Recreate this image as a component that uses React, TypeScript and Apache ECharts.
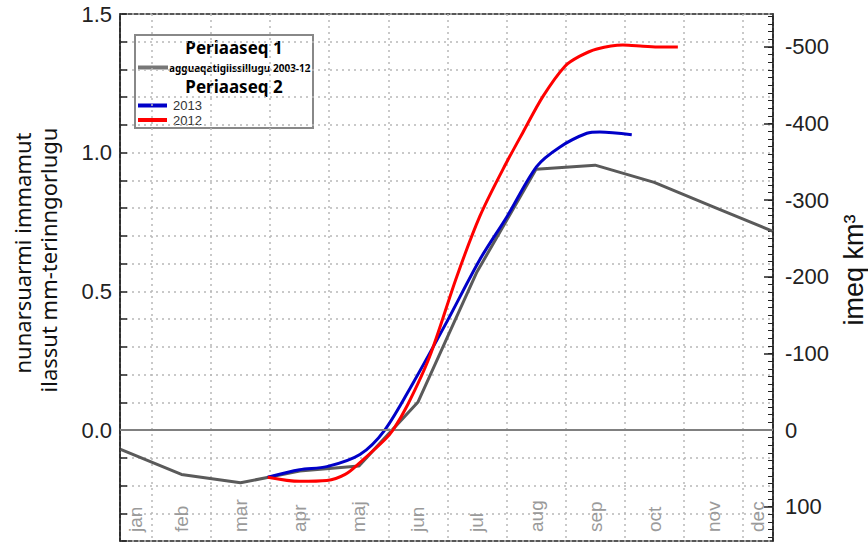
import React, { useEffect, useRef } from "react";
import * as echarts from "echarts";

// ---- data ----
const MONTHS = ["jan", "feb", "mar", "apr", "maj", "jun", "jul", "aug", "sep", "oct", "nov", "dec"];
const MONTH_LABEL_POS = [0.73, 1.5, 2.5, 3.5, 4.5, 5.5, 6.5, 7.5, 8.5, 9.5, 10.5, 11.25];

// average 2003-12 (month units, 0 = 1 Jan)
const AVG_X = [0.47, 1.5, 2.5, 3.5, 4.5, 5.5, 6.5, 7.5, 8.5, 9.5, 10.5, 11.5];
const AVG_Y = [-0.07, -0.16, -0.19, -0.148, -0.13, 0.1, 0.57, 0.94, 0.955, 0.893, 0.805, 0.717];

const Y2013_X = [2.96, 3.5, 3.96, 4.52, 4.94, 5.42, 5.99, 6.55, 7.01, 7.51, 7.9, 8.36, 8.58, 9.12];
const Y2013_Y = [-0.17, -0.143, -0.132, -0.088, 0.0, 0.17, 0.39, 0.615, 0.77, 0.95, 1.02, 1.07, 1.075, 1.065];

const Y2012_X = [2.96, 3.5, 3.96, 4.27, 4.52, 4.94, 5.08, 5.33, 5.7, 6.16, 6.55, 6.94, 7.28, 7.62, 7.99, 8.24, 8.53, 8.97, 9.31, 9.6, 9.9];
const Y2012_Y = [-0.17, -0.185, -0.182, -0.16, -0.117, -0.035, 0.0, 0.092, 0.265, 0.554, 0.771, 0.94, 1.074, 1.204, 1.312, 1.348, 1.374, 1.388, 1.384, 1.381, 1.381];

const RIGHT_LABELS = [-500, -400, -300, -200, -100, 0, 100];
const KM3_PER_MM = 362;
const LEFT_MIN = -0.4;
const LEFT_MAX = 1.5;

const pairs = (xs: number[], ys: number[]) => xs.map((x, i) => [x, ys[i]]);

const GRID_LINE = { color: "#b8b8b8", type: [2, 4] as number[], width: 1.5 };

export default function App() {
  const ref = useRef<HTMLDivElement>(null);

  useEffect(() => {
    document.body.style.margin = "0";
    if (!ref.current) return;
    const chart = echarts.init(ref.current, undefined, { renderer: "svg" });

    const rightMinor: number[] = [];
    for (let v = -540; v <= 140; v += 10) rightMinor.push(v);

    const rightMin = -LEFT_MAX * KM3_PER_MM;
    const rightMax = -LEFT_MIN * KM3_PER_MM;

    const legendText = (text: string, x: number, y: number, extra: any) => ({
      type: "text",
      x,
      y,
      style: {
        text,
        align: "left",
        verticalAlign: "middle",
        ...extra,
      },
    });

    const heading = (text: string, y: number) => ({
      type: "text",
      x: 234,
      y,
      style: {
        text,
        fill: "#000",
        fontSize: 17,
        lineHeight: 17,
        fontWeight: "bold",
        fontFamily: "Noto Sans, sans-serif",
        align: "center",
        verticalAlign: "middle",
      },
    });

    const option: any = {
      animation: false,
      grid: {
        left: 120,
        right: 95,
        top: 14,
        bottom: 3,
        show: true,
        borderColor: "#222",
        borderWidth: 1.5,
        backgroundColor: "transparent",
      },
      xAxis: {
        type: "value",
        min: 0.46,
        max: 11.51,
        splitNumber: 11,
        axisLine: { show: false },
        axisTick: { show: false },
        axisLabel: {
          show: true,
          inside: true,
          rotate: 90,
          customValues: MONTH_LABEL_POS,
          formatter: (v: number) => MONTHS[Math.floor(v)],
          color: "#9a9a9a",
          fontSize: 19,
          fontFamily: "Liberation Sans, Arial, sans-serif",
          margin: 9,
        },
        splitLine: { show: true, lineStyle: GRID_LINE },
      },
      yAxis: [
        {
          type: "value",
          position: "left",
          min: LEFT_MIN,
          max: LEFT_MAX,
          interval: 0.1,
          axisLine: { show: true, lineStyle: { color: "#222", width: 1.5 } },
          axisTick: { show: true, inside: true, length: 7, lineStyle: { color: "#222", width: 1.5 } },
          axisLabel: {
            formatter: (v: number) => {
              const r = Math.round(v * 10);
              if (r % 5 !== 0) return "";
              return (Math.abs(r) === 0 ? 0 : r / 10).toFixed(1);
            },
            fontSize: 22,
            color: "#222",
            margin: 8,
            fontFamily: "Liberation Sans, Arial, sans-serif",
          },
          splitLine: { show: true, lineStyle: GRID_LINE },
        },
        {
          type: "value",
          position: "right",
          inverse: true,
          min: rightMin,
          max: rightMax,
          axisLine: { show: true, lineStyle: { color: "#222", width: 1.5 } },
          axisTick: {
            show: true,
            inside: true,
            length: 9,
            customValues: RIGHT_LABELS,
            lineStyle: { color: "#222", width: 1.5 },
          },
          axisLabel: {
            customValues: RIGHT_LABELS,
            formatter: (v: number) => String(Math.round(v)),
            fontSize: 22,
            color: "#222",
            margin: 12,
            fontFamily: "Liberation Sans, Arial, sans-serif",
          },
          splitLine: { show: false },
        },
        {
          type: "value",
          position: "right",
          inverse: true,
          min: rightMin,
          max: rightMax,
          axisLine: { show: false },
          axisTick: {
            show: true,
            inside: true,
            length: 5,
            customValues: rightMinor,
            lineStyle: { color: "#222", width: 1 },
          },
          axisLabel: { show: false },
          splitLine: { show: false },
        },
      ],
      series: [
        {
          name: "agguaqatigiissillugu 2003-12",
          type: "line",
          data: pairs(AVG_X, AVG_Y),
          showSymbol: false,
          symbol: "none",
          lineStyle: { color: "#5a5a5a", width: 3 },
          z: 3,
          markLine: {
            silent: true,
            symbol: ["none", "none"],
            label: { show: false },
            lineStyle: { color: "#808080", width: 2, type: "solid" },
            data: [{ yAxis: 0 }],
          },
        },
        {
          name: "2013",
          type: "line",
          data: pairs(Y2013_X, Y2013_Y),
          showSymbol: false,
          symbol: "none",
          smooth: 0.3,
          lineStyle: { color: "#0000c8", width: 3 },
          z: 4,
        },
        {
          name: "2012",
          type: "line",
          data: pairs(Y2012_X, Y2012_Y),
          showSymbol: false,
          symbol: "none",
          smooth: 0.3,
          lineStyle: { color: "#ff0000", width: 3 },
          z: 5,
        },
      ],
      graphic: [
        {
          type: "text",
          x: 22,
          y: 253,
          rotation: Math.PI / 2,
          style: {
            text: "nunarsuarmi immamut",
            fill: "#111",
            fontSize: 22,
            fontFamily: "Noto Sans, sans-serif",
            align: "center",
            verticalAlign: "middle",
          },
        },
        {
          type: "text",
          x: 48,
          y: 260,
          rotation: Math.PI / 2,
          style: {
            text: "ilassut mm-terinngorlugu",
            fill: "#111",
            fontSize: 22,
            fontFamily: "Noto Sans, sans-serif",
            align: "center",
            verticalAlign: "middle",
          },
        },
        {
          type: "text",
          x: 854,
          y: 270,
          rotation: Math.PI / 2,
          style: {
            text: "imeq km³",
            fill: "#111",
            fontSize: 27,
            fontFamily: "Liberation Sans, Arial, sans-serif",
            align: "center",
            verticalAlign: "middle",
          },
        },
        {
          type: "group",
          z: 100,
          children: [
            {
              type: "rect",
              shape: { x: 135, y: 35, width: 178, height: 93 },
              style: { fill: "#fff", stroke: "#888", lineWidth: 2 },
            },
            heading("Periaaseq 1", 47),
            {
              type: "rect",
              shape: { x: 138, y: 65.5, width: 30, height: 4 },
              style: { fill: "#777" },
            },
            legendText("agguaqatigiissillugu 2003-12", 169, 67.5, {
              fill: "#000",
              fontSize: 10,
              lineHeight: 10,
              fontWeight: "bold",
              fontFamily: "Noto Sans, sans-serif",
            }),
            heading("Periaaseq 2", 86.5),
            {
              type: "rect",
              shape: { x: 138, y: 103.5, width: 29, height: 4 },
              style: { fill: "#0000c8" },
            },
            legendText("2013", 173, 105.5, {
              fill: "#333",
              fontSize: 13,
              lineHeight: 13,
              fontFamily: "Liberation Sans, Arial, sans-serif",
            }),
            {
              type: "rect",
              shape: { x: 138, y: 118, width: 29, height: 4 },
              style: { fill: "#ff0000" },
            },
            legendText("2012", 173, 120, {
              fill: "#333",
              fontSize: 13,
              lineHeight: 13,
              fontFamily: "Liberation Sans, Arial, sans-serif",
            }),
          ],
        },
      ],
    };

    chart.setOption(option);
    return () => chart.dispose();
  }, []);

  return <div ref={ref} style={{ width: 868, height: 544, background: "#fff" }} />;
}
